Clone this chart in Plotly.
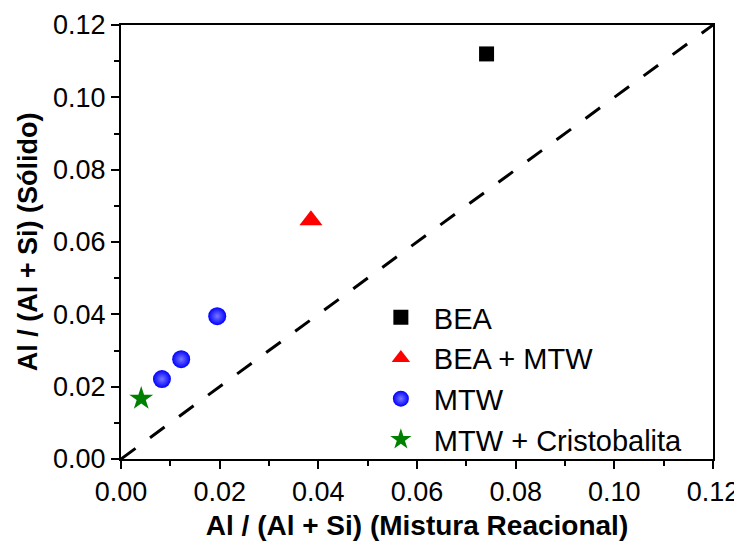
import plotly.graph_objects as go

# Data
bea_x = [0.0741]
bea_y = [0.1120]
beamtw_x = [0.0385]
beamtw_y = [0.0660]
mtw_x = [0.0083, 0.0122, 0.0195]
mtw_y = [0.0221, 0.0276, 0.0395]
crist_x = [0.0041]
crist_y = [0.0167]
diag = [0.0, 0.12]

FONT = "Arial, Liberation Sans, sans-serif"

fig = go.Figure()
fig.add_trace(go.Scatter(x=diag, y=diag, mode="lines",
                         line=dict(color="black", width=3, dash="18px,18px"),
                         showlegend=False, hoverinfo="skip"))
fig.add_trace(go.Scatter(x=bea_x, y=bea_y, mode="markers", name="BEA",
                         marker=dict(symbol="square", size=15, color="black")))
fig.add_trace(go.Scatter(x=beamtw_x, y=beamtw_y, mode="markers", name="BEA + MTW",
                         marker=dict(symbol="triangle-up", size=20, color="red")))
fig.add_trace(go.Scatter(x=mtw_x, y=mtw_y, mode="markers", name="MTW",
                         marker=dict(symbol="circle", size=18, color="#0000ff",
                                     line=dict(width=0),
                                     gradient=dict(type="radial", color="#7878ff"))))
fig.add_trace(go.Scatter(x=crist_x, y=crist_y, mode="markers", name="MTW + Cristobalita",
                         marker=dict(symbol="star", size=18, color="green")))

axis_common = dict(
    showline=True, linecolor="black", linewidth=2, mirror=True,
    ticks="outside", ticklen=8, tickwidth=2, tickcolor="black",
    showgrid=False, zeroline=False, automargin=False,
    tickfont=dict(family=FONT, size=27, color="black"),
    minor=dict(ticks="outside", ticklen=5, tickwidth=2, tickcolor="black", dtick=0.01, showgrid=False),
)

fig.update_xaxes(range=[0, 0.12], dtick=0.02, tickformat=".2f",
                 title=dict(text="<b>Al / (Al + Si) (Mistura Reacional)</b>",
                            font=dict(family=FONT, size=28, color="black"), standoff=9),
                 **axis_common)
fig.update_yaxes(range=[0, 0.12], dtick=0.02, tickformat=".2f",
                 title=dict(text="<b>Al / (Al + Si) (Sólido)</b>",
                            font=dict(family=FONT, size=27, color="black"), standoff=8),
                 **axis_common)

fig.update_layout(
    width=742, height=549,
    margin=dict(l=113, r=37, t=17, b=98),
    plot_bgcolor="white", paper_bgcolor="white",
    legend=dict(x=0.417, y=0.385, xanchor="left", yanchor="top",
                font=dict(family=FONT, size=29, color="black"),
                bgcolor="rgba(0,0,0,0)", tracegroupgap=0, itemsizing="trace",
                itemwidth=56),
)

fig.write_html("out.html")
